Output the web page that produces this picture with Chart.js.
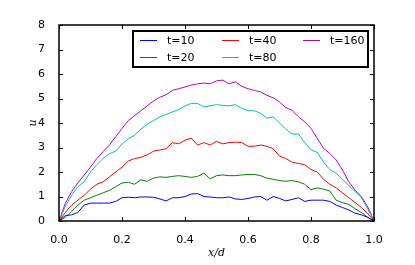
<!DOCTYPE html>
<html>
<head>
<meta charset="utf-8">
<script src="https://cdn.jsdelivr.net/npm/chart.js@4"></script>
<style>
  html, body { margin: 0; padding: 0; background: #fff; }
  #wrap { width: 415px; height: 265px; }
</style>
</head>
<body>
<div id="wrap"><canvas id="chart" width="415" height="265"></canvas></div>
<script>
// x positions (x/d)
const xs = [0, 0.02, 0.04, 0.06, 0.08, 0.10, 0.12, 0.14, 0.16, 0.18, 0.20, 0.22, 0.24, 0.26, 0.28, 0.30,
  0.32, 0.34, 0.36, 0.38, 0.40, 0.42, 0.44, 0.46, 0.48, 0.50, 0.52, 0.54, 0.56, 0.58, 0.60, 0.62,
  0.64, 0.66, 0.68, 0.70, 0.72, 0.74, 0.76, 0.78, 0.80, 0.82, 0.84, 0.86, 0.88, 0.90, 0.92, 0.94,
  0.96, 0.98, 1.0];

const labels = ["t=10", "t=20", "t=40", "t=80", "t=160"];
const colors = ["#0000ff", "#008000", "#ff0000", "#00bfbf", "#bf00bf"];

const u10 = [0, 0.22, 0.25, 0.35, 0.65, 0.73, 0.73, 0.73, 0.73, 0.8, 0.95, 0.97, 0.95, 0.98, 0.98, 0.97,
  0.9, 0.82, 0.95, 0.95, 1.0, 1.1, 1.12, 1.0, 0.98, 0.95, 0.95, 0.98, 0.9, 0.88, 0.92, 0.98,
  1.0, 0.85, 1.0, 0.92, 0.82, 0.88, 0.95, 0.8, 0.85, 0.85, 0.85, 0.8, 0.65, 0.55, 0.45, 0.32,
  0.25, 0.15, 0];
const u20 = [0, 0.15, 0.4, 0.65, 0.85, 0.95, 1.05, 1.15, 1.25, 1.4, 1.55, 1.58, 1.5, 1.68, 1.62, 1.75,
  1.8, 1.78, 1.82, 1.85, 1.82, 1.78, 1.82, 1.95, 1.72, 1.85, 1.88, 1.85, 1.85, 1.88, 1.9, 1.9,
  1.85, 1.75, 1.7, 1.65, 1.62, 1.65, 1.6, 1.5, 1.28, 1.35, 1.3, 1.22, 0.85, 0.75, 0.68, 0.5,
  0.35, 0.15, 0];
const u40 = [0, 0.35, 0.65, 0.85, 1.05, 1.3, 1.5, 1.6, 1.8, 2.0, 2.2, 2.45, 2.55, 2.6, 2.7, 2.85,
  2.9, 2.95, 3.2, 3.15, 3.3, 3.38, 3.1, 3.2, 3.1, 3.25, 3.15, 3.2, 3.22, 3.2, 3.05, 3.05,
  3.1, 3.05, 2.95, 2.65, 2.55, 2.4, 2.35, 2.3, 2.1, 2.0, 1.7, 1.5, 1.35, 1.15, 0.95, 0.75,
  0.55, 0.3, 0];
const u80 = [0, 0.6, 1.05, 1.4, 1.6, 2.0, 2.3, 2.55, 2.75, 2.85, 3.15, 3.35, 3.5, 3.75, 3.95, 4.1,
  4.25, 4.35, 4.45, 4.55, 4.7, 4.8, 4.8, 4.65, 4.7, 4.75, 4.72, 4.7, 4.75, 4.6, 4.5, 4.5,
  4.4, 4.2, 4.25, 4.0, 3.75, 3.55, 3.55, 3.2, 2.9, 2.8, 2.4, 2.1, 1.95, 1.7, 1.45, 1.2,
  0.95, 0.5, 0];
const u160 = [0, 0.72, 1.2, 1.56, 1.88, 2.2, 2.55, 2.83, 3.1, 3.44, 3.78, 4.1, 4.3, 4.5, 4.7, 4.9,
  5.05, 5.15, 5.33, 5.4, 5.47, 5.55, 5.6, 5.63, 5.6, 5.72, 5.75, 5.6, 5.68, 5.5, 5.4, 5.33,
  5.27, 5.13, 5.03, 4.86, 4.63, 4.52, 4.25, 4.05, 3.78, 3.37, 2.96, 2.76, 2.49, 2.08, 1.6, 1.26,
  0.99, 0.58, 0];

const series = [u10, u20, u40, u80, u160];
const xTicks = [0, 0.2, 0.4, 0.6, 0.8, 1.0];
const yTicks = [0, 1, 2, 3, 4, 5, 6, 7, 8];

const tickFont = { family: "DejaVu Sans", size: 11 };

// frame, inward ticks on all four sides, and a 3-column legend
const framePlugin = {
  id: "frame",
  afterDraw(chart) {
    const { ctx, chartArea: a, scales } = chart;
    ctx.save();
    ctx.strokeStyle = "#000";
    ctx.lineWidth = 1;
    ctx.beginPath();
    xTicks.forEach(v => {
      const px = Math.round(scales.x.getPixelForValue(v)) + 0.5;
      ctx.moveTo(px, a.bottom); ctx.lineTo(px, a.bottom - 4);
      ctx.moveTo(px, a.top); ctx.lineTo(px, a.top + 4);
    });
    yTicks.forEach(v => {
      const py = Math.round(scales.y.getPixelForValue(v)) + 0.5;
      ctx.moveTo(a.left, py); ctx.lineTo(a.left + 4, py);
      ctx.moveTo(a.right, py); ctx.lineTo(a.right - 4, py);
    });
    ctx.stroke();
    ctx.lineWidth = 1.5;
    ctx.strokeRect(a.left, a.top, a.right - a.left, a.bottom - a.top);

    // legend
    const bx = 133, by = 31, bw = 235, bh = 36;
    ctx.fillStyle = "#fff";
    ctx.fillRect(bx, by, bw, bh);
    ctx.lineWidth = 2;
    ctx.strokeRect(bx, by, bw, bh);
    const cols = [140, 222, 303];
    const rows = [40, 57];
    ctx.font = "11px 'DejaVu Sans'";
    ctx.textBaseline = "middle";
    chart.data.datasets.forEach((ds, i) => {
      const c = Math.floor(i / 2), r = i % 2;
      const x0 = cols[c], y0 = rows[r];
      ctx.strokeStyle = ds.borderColor;
      ctx.lineWidth = 1;
      ctx.beginPath();
      ctx.moveTo(x0, y0 + 0.5); ctx.lineTo(x0 + 17, y0 + 0.5);
      ctx.stroke();
      ctx.fillStyle = "#000";
      ctx.fillText(ds.label, x0 + 27, y0 + 1);
    });
    ctx.restore();
  }
};

new Chart(document.getElementById("chart"), {
  type: "line",
  data: {
    datasets: series.map((s, i) => ({
      label: labels[i],
      data: s.map((v, j) => ({ x: xs[j], y: v })),
      borderColor: colors[i],
      borderWidth: 1,
      pointRadius: 0,
      tension: 0,
      fill: false
    }))
  },
  options: {
    responsive: false,
    animation: false,
    layout: { padding: { top: 25, right: 41, left: 0, bottom: 0 } },
    plugins: { legend: { display: false }, tooltip: { enabled: false } },
    scales: {
      x: {
        type: "linear",
        min: 0, max: 1,
        afterFit: s => { s.height = 44; },
        afterBuildTicks: s => { s.ticks = xTicks.map(v => ({ value: v })); },
        grid: { display: false },
        border: { display: false },
        ticks: { color: "#000", font: tickFont, padding: 5, maxRotation: 0,
          callback: v => v.toFixed(1) },
        title: { display: true, text: "x/d", color: "#000",
          font: { family: "DejaVu Serif", style: "italic", size: 11 }, padding: { top: 0, bottom: 5 } }
      },
      y: {
        min: 0, max: 8,
        afterFit: s => { s.width = 59; },
        afterBuildTicks: s => { s.ticks = yTicks.map(v => ({ value: v })); },
        grid: { display: false },
        border: { display: false },
        ticks: { color: "#000", font: tickFont, padding: 6 },
        title: { display: true, text: "u", color: "#000",
          font: { family: "DejaVu Serif", style: "italic", size: 11 }, padding: { top: 27, bottom: 27 } }
      }
    }
  },
  plugins: [framePlugin]
});
</script>
</body>
</html>
